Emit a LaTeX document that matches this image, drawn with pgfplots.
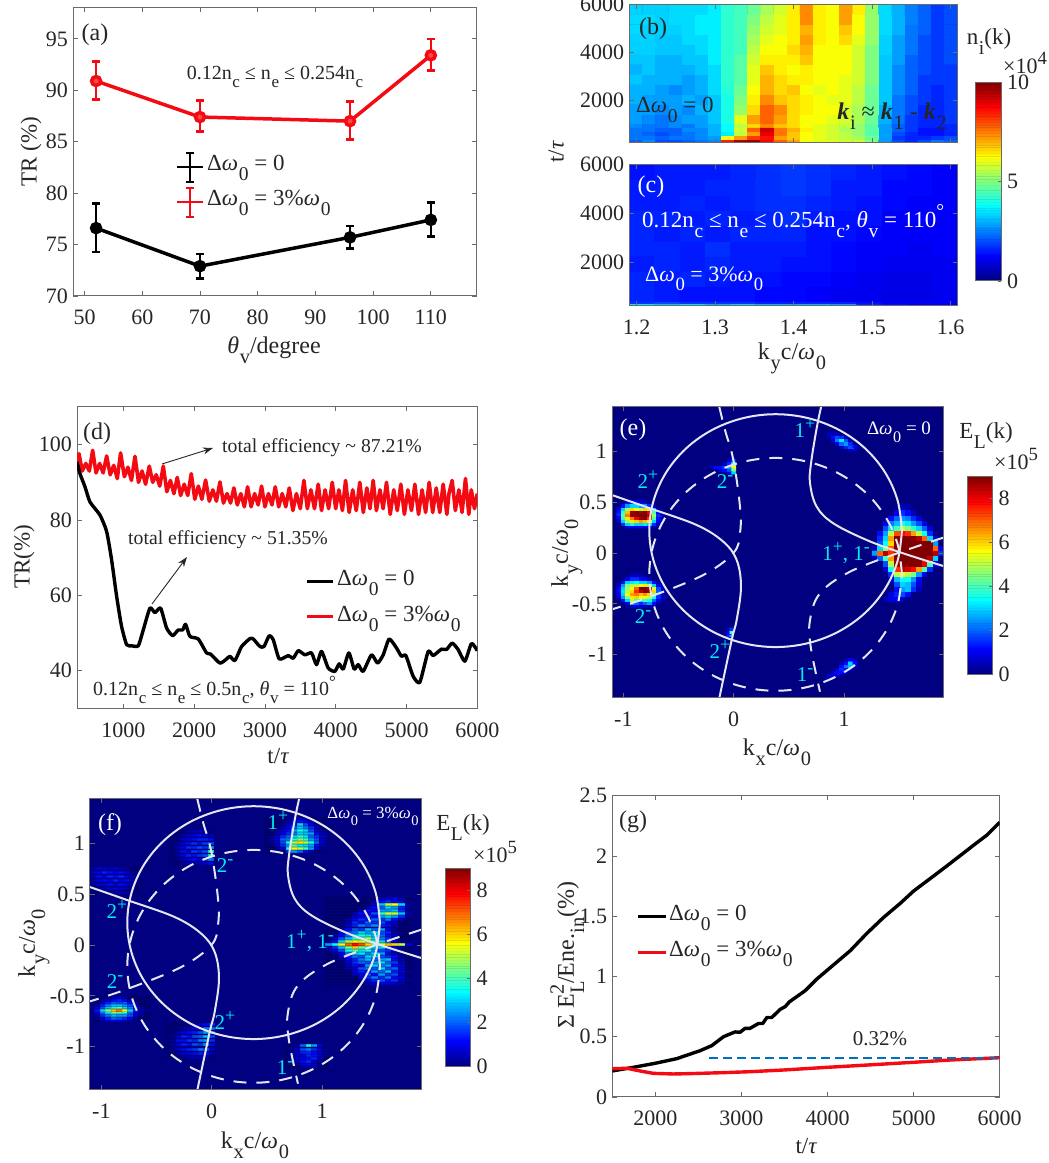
\documentclass[border=0pt]{standalone}
\usepackage{fontspec}
\setmainfont{Liberation Serif}
\usepackage{pgfplots}
\pgfplotsset{compat=1.18}
\usetikzlibrary{arrows.meta}
\definecolor{txt}{HTML}{262626}
\definecolor{frm}{HTML}{6A6A6A}
\definecolor{wl}{HTML}{E4E6F2}
\definecolor{cy}{HTML}{00EEF0}
\definecolor{rd}{HTML}{F40A12}
\definecolor{jb}{rgb}{0,0,.5}
\definecolor{mb}{rgb}{0,.447,.741}
\newcommand\fs[1]{\fontsize{#1}{#1}\selectfont}
\newcommand\SB[1]{\kern.03em\raisebox{-.42em}{\scalebox{.85}{#1}}}
\newcommand\SP[1]{\raisebox{.42em}{\scalebox{.85}{#1}}}
\newcommand\Om{{\itshape ω}}
\newcommand\Dw{Δ\Om\SB{0}}
\newcommand\Th{{\itshape θ}}
\newcommand\Tau{{\itshape τ}}
\newcommand\bk{{\bfseries\itshape k}}
\newcommand\TC[4]{\node[anchor=base,inner sep=0,font=\fs{#3},text=txt] at (#1,{#2+.33*#3}) {#4};}
\newcommand\TL[4]{\node[anchor=base west,inner sep=0,font=\fs{#3},text=txt] at (#1,{#2+.33*#3}) {#4};}
\newcommand\TR[4]{\node[anchor=base,rotate=90,inner sep=0,font=\fs{#3},text=txt] at ({#1+.33*#3},#2) {#4};}
\newcommand\blob[6]{%
 \gdef\coords{}%
 \foreach \v [count=\i from 0] in {#6} {%
   \pgfmathsetmacro\cx{#2+#3*mod(\i,#1)}%
   \pgfmathsetmacro\cy{#4+#5*floor(\i/#1)}%
   \xdef\coords{\coords (\cx,\cy) [\v]}%
 }%
 \edef\tmp{\noexpand\addplot[matrix plot*,mesh/cols=#1,point meta=explicit] coordinates {\coords};}\tmp
}
\newcommand\sblob[6]{%
 \gdef\coords{}%
 \foreach \v [count=\i from 0] in {#6} {%
   \pgfmathsetmacro\cx{#2+#3*mod(\i,#1)}%
   \pgfmathsetmacro\cy{#4+#5*floor(\i/#1)}%
   \xdef\coords{\coords (\cx,\cy) [\v]}%
 }%
 \pgfmathsetmacro\xs{#3*55.2}%
 \edef\tmp{\noexpand\addplot[scatter,only marks,scatter src=explicit,mark=square*,mark size=1pt,mark options={xscale=\xs}] coordinates {\coords};}\tmp
}
\pgfplotsset{
 /pgf/number format/assume math mode=true,
 /pgf/number format/1000 sep={},
 base/.style n args={4}{at={(#1pt,#2pt)},anchor=south west,scale only axis,width=#3pt,height=#4pt,
   axis line style={draw=frm,line width=1pt},tick style={draw=frm,line width=.8pt},
   major tick length=4.5pt,tick align=inside,
   tick label style={font=\fs{22},text=txt,inner sep=3pt},
   xticklabel style={yshift=-11pt},yticklabel style={xshift=-2pt},
   clip=true},
 hm/.style={axis on top,colormap/jet,point meta min=0,axis background/.style={fill=jb}},
}
% a colour scale as an axis of its own: left, bottom, height, top value, ticks
\newcommand\cbaxis[5]{%
\begin{axis}[base={#1}{#2}{25.3}{#3},hm,point meta max=1,xmin=0,xmax=1,ymin=0,ymax=#4,xtick=\empty,ytick pos=right,ytick={#5},
  major tick length=3pt,yticklabel style={xshift=5pt}]
 \gdef\coords{}%
 \foreach \k in {0,...,128} {%
   \pgfmathsetmacro\yy{(\k+.5)/129*#4}%
   \pgfmathsetmacro\mm{(\k+.5)/129}%
   \xdef\coords{\coords (.25,\yy) [\mm] (.75,\yy) [\mm]}%
 }%
 \edef\tmp{\noexpand\addplot[matrix plot*,mesh/cols=2,point meta=explicit] coordinates {\coords};}\tmp
\end{axis}}
\newcommand\curves{%
\addplot[wl,line width=2pt,smooth,tension=.6] coordinates {(1.525,.22)(1.486,.516)(1.372,.7925)(1.190,1.030)(.9525,1.212)(.676,1.326)(.38,1.365)(.084,1.326)(-.1925,1.212)(-.430,1.030)(-.612,.7925)(-.726,.516)(-.765,.22)(-.726,-.076)(-.612,-.3525)(-.430,-.590)(-.1925,-.772)(.084,-.886)(.38,-.925)(.676,-.886)(.9525,-.772)(1.190,-.590)(1.372,-.3525)(1.486,-.076)(1.525,.22)};
\addplot[wl,line width=2pt,smooth,tension=.6,dash pattern=on 13pt off 10pt] coordinates {(1.525,-.21)(1.486,.086)(1.372,.3625)(1.190,.600)(.9525,.782)(.676,.896)(.38,.935)(.084,.896)(-.1925,.782)(-.430,.600)(-.612,.3625)(-.726,.086)(-.765,-.21)(-.726,-.506)(-.612,-.7825)(-.430,-1.020)(-.1925,-1.202)(.084,-1.316)(.38,-1.355)(.676,-1.316)(.9525,-1.202)(1.190,-1.020)(1.372,-.7825)(1.486,-.506)(1.525,-.21)};
\addplot[wl,line width=2pt,smooth,tension=.6] coordinates {(.792,1.436)(.752,1.226)(.701,.882)(.692,.685)(.752,.456)(.903,.292)(1.205,.128)(1.508,.007)(1.900,-.128)};
\addplot[wl,line width=2pt,smooth,tension=.6] coordinates {(-1.103,.570)(-.758,.439)(-.335,.275)(-.094,.111)(.027,-.069)(.066,-.331)(.027,-.659)(-.018,-.856)(-.130,-1.426)};
\addplot[wl,line width=2pt,smooth,tension=.6,dash pattern=on 13pt off 10pt] coordinates {(-.130,1.436)(-.079,1.21)(-.003,.915)(.057,.456)(.057,.193)(-.003,0)(-.275,-.216)(-.758,-.430)(-1.103,-.554)};
\addplot[wl,line width=2pt,smooth,tension=.6,dash pattern=on 13pt off 10pt] coordinates {(1.9,.151)(1.508,.007)(1.054,-.184)(.782,-.397)(.692,-.659)(.698,-.921)(.782,-1.364)};
}
\begin{document}
\begin{tikzpicture}[x=1pt,y=1pt]
\path[use as bounding box] (0,0) rectangle (1049,1163);
% (a)
\begin{axis}[base={73}{867}{404}{288},xmin=48,xmax=118,ymin=70,ymax=98,xtick={50,60,...,110},ytick={70,75,...,95}]
\addplot[black,line width=3.5pt,mark=*,mark size=4.5pt,error bars/.cd,y dir=both,y explicit,error bar style={line width=2.5pt},error mark options={rotate=90,mark size=4pt,line width=2.5pt}] coordinates {(52,76.6) += (0,2.4) -= (0,2.3) (70,72.9) += (0,1.2) -= (0,1.2) (96,75.7) += (0,1.1) -= (0,1.1) (110,77.4) += (0,1.7) -= (0,1.6)};
\addplot[rd,line width=3.5pt,mark=*,mark size=4.5pt,mark options={fill=rd!75},error bars/.cd,y dir=both,y explicit,error bar style={line width=2.5pt},error mark options={rotate=90,mark size=4pt,line width=2.5pt}] coordinates {(52,90.9) += (0,1.9) -= (0,1.8) (70,87.4) += (0,1.6) -= (0,1.4) (96,87.0) += (0,1.9) -= (0,1.8) (110,93.4) += (0,1.6) -= (0,1.5)};
\end{axis}
% (b)
\begin{axis}[base={629.3}{1020}{328.4}{138.3},hm,point meta max=100,xmin=1.1906,xmax=1.609,ymin=222,ymax=6000,xtick={1.2,1.3,...,1.6},xticklabels={},ytick={2000,4000,6000}]
\blob{25}{1.199}{0.01673}{302}{160}{
22,26,20,20,22,24,26,85,96,98,88,78,72,62,60,60,58,58,50,28,20,16,20,24,22,
24,24,22,24,24,26,28,62,72,82,86,72,68,62,60,58,56,54,48,28,18,16,16,18,20,
24,22,20,22,24,26,30,36,56,72,90,76,68,62,60,58,56,52,46,28,20,16,14,14,16,
24,24,22,22,26,26,30,38,58,78,92,76,70,64,60,58,54,52,46,28,22,18,14,14,16,
26,24,24,26,24,28,30,38,56,66,74,68,66,62,60,58,56,52,46,28,22,18,16,16,16}
\blob{25}{1.199}{0.01673}{1229.5}{415}{
28,26,24,26,28,28,32,40,60,72,78,72,66,62,62,60,58,54,48,30,24,18,16,16,18,
28,28,26,28,26,30,32,40,52,66,78,74,66,64,62,62,58,54,48,30,24,20,16,16,18,
30,28,28,28,30,28,32,40,50,64,74,68,66,64,62,60,60,56,48,32,24,20,18,16,18,
30,30,28,26,28,30,34,41,48,62,70,66,68,62,60,62,60,56,48,32,26,22,18,16,18,
32,30,30,30,28,30,34,42,46,60,70,66,64,64,62,62,60,58,50,32,26,22,18,18,18,
30,32,30,30,30,32,34,42,46,60,68,64,62,64,62,62,62,58,50,32,26,22,20,18,18,
32,32,30,30,32,32,36,42,46,58,64,64,64,68,62,62,62,58,50,32,28,22,20,18,20,
33,33,32,32,32,34,36,42,44,56,62,62,66,70,62,62,62,58,50,33,28,24,20,18,20,
33,33,32,32,34,34,36,42,44,54,60,62,64,72,64,62,66,60,52,33,28,24,20,18,20,
34,33,33,33,34,36,36,42,44,52,58,60,64,70,64,62,68,62,52,34,30,24,22,18,20,
34,34,33,34,34,36,36,42,44,50,56,60,64,74,64,62,72,62,52,34,30,25,22,18,20,
33,33,33,34,34,34,36,42,44,48,54,58,64,74,64,62,72,64,52,34,30,25,22,18,20}
\end{axis}
% (c)
\begin{axis}[base={629.3}{857.3}{328.4}{141},hm,point meta max=100,xmin=1.1906,xmax=1.609,ymin=222,ymax=6000,xtick={1.2,1.3,...,1.6},ytick={2000,4000,6000},
 xticklabel style={/pgf/number format/fixed,/pgf/number format/precision=1}]
\blob{13}{1.2067}{0.03217}{261}{78}{
35,32,34,30,33,30,30,30,28,16,14,12,12,
18,20,18,18,18,16,16,16,16,14,12,12,12}
\blob{13}{1.2067}{0.03217}{690}{624.7}{
16,15,14,14,14,13,13,12,11,11,10,10,11,
16,15,16,15,14,14,13,13,12,11,10,10,11,
15,16,15,16,15,15,14,14,13,12,11,11,11,
16,16,15,17,15,15,15,14,13,12,12,11,12,
16,15,16,15,16,16,16,14,14,13,12,12,12,
16,16,15,16,15,16,17,15,14,14,12,12,12,
15,15,16,15,16,17,17,16,15,14,13,12,12,
15,15,15,16,16,17,18,17,15,15,13,13,12,
14,15,15,15,16,17,18,17,16,15,14,13,12}
\end{axis}
\cbaxis{975.7}{882}{198.3}{10}{0,5,10}
% (d)
\begin{axis}[base={77}{454.7}{400.3}{301.3},xmin=346,xmax=6000,ymin=30,ymax=110,xtick={1000,2000,...,6000},ytick={40,60,80,100}]
\addplot[rd,line width=3.6pt,line join=round] coordinates {(346,94)(374,97.6)(420,93)(470,95)(520,93)(567,98.5)(615,92.5)(665,95)(715,92.5)(765,97)(815,92)(865,94.5)(915,91)(962,97.8)(1015,91.5)(1065,94)(1115,90.5)(1165,96.9)(1215,90)(1265,93)(1315,89.5)(1367,94.3)(1415,90)(1465,92)(1515,89)(1565,94.3)(1615,87.5)(1665,90.5)(1715,87)(1762,91.3)(1810,86.5)(1860,89.5)(1910,86.5)(1960,92.3)(2010,85.5)(2060,89)(2110,85.5)(2162,90.6)(2215,85)(2265,88)(2315,85)(2365,90.1)(2415,84.5)(2465,87)(2515,84.5)(2562,88.5)(2610,84)(2660,87)(2710,83.5)(2755,88.8)(2805,83.5)(2855,87)(2905,84)(2953,89)(3000,83.5)(3050,87)(3100,84)(3146,88.8)(3195,83.5)(3245,87)(3295,83.5)(3344,88.5)(3395,82.5)(3445,87)(3500,83)(3551,90.5)(3600,83)(3650,88)(3700,83)(3753,89.5)(3800,82.5)(3850,88)(3900,83)(3951,90)(4000,83)(4045,88)(4095,82.5)(4139,90.5)(4190,82)(4240,88)(4290,82.5)(4341,90)(4390,82)(4440,88.5)(4485,83)(4529,90.5)(4575,82.5)(4625,88)(4670,83)(4717,90)(4770,81.5)(4820,88)(4870,82.5)(4920,89.5)(4970,81.5)(5020,88)(5070,82.5)(5118,89.5)(5170,81.5)(5220,88)(5270,82)(5320,90)(5370,82)(5420,88.5)(5470,82)(5518,89.5)(5570,81.5)(5600,87)(5645,90.5)(5690,82.5)(5740,88)(5785,82)(5833,91)(5880,81.5)(5915,88)(5960,83)(6000,87)};
\addplot[black,line width=3.4pt,line join=round,smooth,tension=.35] coordinates {(346,95.4)(388,92.3)(459,88.8)(529,84.8)(671,81.3)(765,76.9)(835,69.4)(906,59.7)(976,51.7)(1047,46.9)(1118,46.6)(1212,46.6)(1282,50.8)(1376,56.6)(1447,55.4)(1527,56.6)(1612,51.3)(1697,49.3)(1776,50.8)(1838,50.8)(1880,52.3)(1941,49.1)(2059,48.4)(2176,44.7)(2233,44.4)(2365,42.0)(2459,43.1)(2506,43.8)(2577,42.7)(2671,46.4)(2789,48.5)(2836,48.4)(2930,46.4)(2987,46.4)(3062,49.3)(3118,48.2)(3203,43.1)(3330,44.0)(3400,43.3)(3471,45.3)(3565,44.2)(3659,44.7)(3729,41.6)(3800,45.1)(3894,40.7)(3988,39.8)(4049,41.8)(4106,40.4)(4186,44.7)(4261,40.4)(4318,41.6)(4388,39.8)(4506,44.2)(4591,42.0)(4671,44.2)(4755,48.4)(4859,46.0)(4929,43.8)(4991,44.0)(5094,38.5)(5188,36.9)(5306,45.1)(5376,44.0)(5494,45.7)(5565,45.6)(5645,47.3)(5729,45.6)(5824,42.5)(5918,47.2)(6000,45.3)};
\end{axis}
% (e)
\begin{axis}[base={612}{465}{331.3}{291},hm,point meta max=90,xmin=-1.103,xmax=1.9,ymin=-1.426,ymax=1.436,xtick={-1,0,1},ytick={-1,-.5,0,.5,1}]
\blob{13}{1.28}{.05}{-.50}{.05}{
0,0,0,0,0,0,0,0,0,0,0,0,0,
0,0,5,8,10,6,0,0,0,0,0,0,0,
0,0,0,8,14,18,12,0,0,0,0,0,0,
0,0,0,0,12,25,28,15,5,0,0,0,0,
0,0,0,0,18,30,28,18,8,0,0,0,0,
0,0,0,8,28,35,35,25,10,0,0,0,0,
0,0,0,15,50,55,50,45,25,10,0,0,0,
0,0,8,35,75,85,82,78,65,40,15,0,0,
0,0,18,50,88,95,95,95,95,80,40,10,0,
5,20,40,65,90,95,95,95,95,95,85,30,0,
25,70,85,75,95,95,95,95,95,95,95,85,15,
5,30,45,70,92,95,95,95,95,95,95,70,10,
0,18,35,60,92,95,95,95,95,95,90,25,0,
0,15,30,65,90,95,90,95,85,70,30,8,0,
0,12,25,50,72,78,75,65,50,35,15,0,0,
0,0,18,30,40,50,45,38,30,20,8,0,0,
0,0,10,22,28,35,32,25,18,10,0,0,0,
0,0,0,12,20,25,22,15,8,0,0,0,0,
0,0,0,0,10,15,12,5,0,0,0,0,0,
0,0,0,0,0,6,4,0,0,0,0,0,0}
\blob{11}{-1.04}{.04}{.26}{.03}{
0,0,8,12,10,12,10,8,5,0,0,
0,15,30,35,30,30,32,28,15,5,0,
8,30,48,58,60,65,62,55,30,10,3,
12,38,58,68,80,88,90,75,40,12,3,
15,42,68,88,92,95,95,85,48,15,3,
12,38,62,88,90,88,92,80,40,10,0,
8,30,48,60,55,50,60,50,25,5,0,
0,12,25,30,30,25,25,15,5,0,0,
0,0,8,12,10,8,5,0,0,0,0}
\blob{12}{-1.04}{.04}{-.52}{.03}{
0,0,0,6,8,8,5,3,3,0,0,0,
0,0,10,25,20,15,20,25,12,4,0,0,
0,12,30,50,40,30,40,35,20,10,3,0,
8,25,45,58,60,55,55,50,35,15,5,0,
10,30,55,65,68,62,66,60,45,15,5,3,
12,32,50,60,75,85,90,88,60,20,6,3,
10,30,48,55,70,90,92,85,55,18,5,0,
6,25,45,50,50,55,58,48,30,10,3,0,
0,12,30,32,35,30,30,25,12,3,0,0,
0,0,10,15,15,12,10,5,0,0,0,0,
0,0,0,5,6,4,0,0,0,0,0,0}
\blob{6}{-.2}{.04}{.79}{.03}{
0,0,0,0,10,30,
0,0,8,12,18,45,
6,12,12,15,25,55,
0,0,0,6,15,35,
0,0,0,0,6,15}
\blob{7}{.86}{.04}{1.02}{.03}{
0,0,0,0,0,6,8,
0,0,0,5,14,18,10,
0,0,8,20,25,15,0,
0,8,22,32,18,5,0,
3,12,18,15,5,0,0,
5,6,5,0,0,0,0}
\blob{7}{.86}{.04}{-1.23}{.03}{
6,5,0,0,0,0,0,
5,10,8,3,0,0,0,
0,5,12,12,6,0,0,
0,0,8,15,12,8,0,
0,0,0,12,22,28,8,
0,0,0,5,12,30,12,
0,0,0,0,5,10,6}
\blob{3}{-.08}{.03}{-.81}{.03}{0,15,25,0,10,40,0,6,15}
\curves
\end{axis}
\cbaxis{967}{488.7}{197.6}{9}{0,2,4,6,8}
% (f)
\begin{axis}[base={90}{73}{331.3}{291},hm,clip mode=individual,point meta max=90,xmin=-1.103,xmax=1.9,ymin=-1.426,ymax=1.436,xtick={-1,0,1},ytick={-1,-.5,0,.5,1}]
\sblob{13}{1.06}{.06}{-.38}{.03}{
0,0,0,0,0,0,5,8,10,10,8,5,0,
0,0,0,0,0,0,10,14,18,12,15,6,3,
0,0,0,0,0,8,15,22,15,22,12,10,0,
0,0,0,0,6,10,18,12,25,15,18,6,0,
0,0,0,0,8,14,12,25,20,28,14,10,3,
0,0,0,5,8,18,22,18,30,18,20,8,0,
0,0,0,6,12,10,25,30,22,25,12,8,0,
0,0,0,8,15,20,18,25,30,20,16,6,0,
0,0,4,10,14,22,28,20,25,28,10,5,0,
0,0,6,14,22,18,30,28,18,15,12,3,0,
0,4,10,22,28,32,22,30,25,12,6,0,0,
3,8,18,35,40,32,35,25,18,15,5,3,0,
5,15,28,45,60,45,40,28,30,18,8,3,0,
25,35,55,70,78,72,60,45,55,62,60,50,10,
4,12,30,48,55,52,45,38,30,20,8,3,0,
0,8,18,28,38,42,50,30,22,15,5,0,0,
0,4,12,20,30,35,32,28,20,12,6,0,0,
0,0,8,18,22,30,25,30,18,14,5,0,0,
0,0,5,12,20,16,28,20,25,10,3,0,0,
0,0,0,8,14,22,18,24,14,12,5,0,0,
0,0,0,6,15,12,20,15,18,10,6,0,0,
0,0,0,4,10,15,12,20,16,22,12,6,0,
0,0,0,0,8,10,15,12,25,30,25,15,4,
0,0,0,0,5,12,10,18,38,52,50,28,5,
0,0,0,0,0,6,12,10,25,25,28,15,3,
0,0,0,0,0,0,5,12,20,30,25,14,4,
0,0,0,0,0,0,0,8,28,50,55,30,5,
0,0,0,0,0,0,0,4,12,15,12,8,0,
0,0,0,0,0,0,0,0,6,8,10,5,0}
\sblob{11}{.50}{.05}{.92}{.03}{
0,0,0,0,15,25,20,12,5,0,0,
0,0,3,8,35,55,50,40,25,8,3,
0,0,6,15,25,40,32,30,25,12,5,
0,3,8,18,35,50,58,50,35,20,8,
0,4,10,20,22,35,45,38,25,18,6,
0,3,8,15,20,30,38,32,20,15,8,
0,0,5,10,15,22,30,28,25,12,5,
0,0,4,8,12,25,35,30,18,8,3,
0,0,0,5,10,18,28,22,15,6,0,
0,0,0,3,8,12,30,18,10,3,0,
0,0,0,0,5,8,12,10,5,0,0,
0,0,0,0,3,5,6,5,0,0,0}
\sblob{8}{-.36}{.05}{.80}{.04}{
0,0,3,6,5,6,8,12,
0,0,6,10,12,10,15,22,
0,4,10,14,12,15,18,35,
0,5,12,10,16,14,18,38,
0,6,10,15,14,18,15,25,
0,3,8,12,15,12,16,18,
0,0,8,10,12,14,14,12,
0,0,4,8,10,12,10,6,
0,0,0,5,6,8,5,0}
\sblob{9}{-1.07}{.05}{.52}{.04}{
0,0,0,3,5,5,4,0,0,
0,3,5,8,10,8,6,3,0,
3,8,10,12,8,12,10,5,0,
5,10,12,10,14,10,12,6,0,
6,12,10,14,12,14,10,6,3,
8,10,14,12,10,12,8,3,0,
5,8,8,6,8,5,3,0,0}
\sblob{10}{-1.04}{.05}{-.74}{.025}{
0,4,8,8,10,6,4,0,0,0,
0,8,14,20,18,15,10,3,0,0,
5,15,22,28,25,25,18,8,3,0,
8,22,32,45,40,38,20,8,4,0,
12,30,45,62,68,55,30,14,5,3,
6,18,28,35,40,30,22,8,3,0,
4,14,22,28,28,24,18,6,0,0,
0,8,14,20,18,20,12,4,0,0,
0,3,8,12,14,12,6,0,0,0,
0,0,3,6,8,5,0,0,0,0}
\sblob{9}{-.40}{.05}{-1.10}{.04}{
0,0,0,3,5,6,5,3,0,
0,0,4,8,10,12,14,12,5,
0,3,8,12,14,16,22,18,8,
0,4,10,14,12,18,16,24,12,
0,3,12,12,16,14,22,25,15,
0,3,8,14,12,18,20,28,18,
0,0,5,10,12,14,18,25,20,
0,0,0,4,8,10,14,22,22,
0,0,0,0,0,4,8,12,15}
\sblob{8}{.68}{.05}{-1.20}{.03}{
0,0,0,3,5,4,0,0,
0,0,4,8,10,6,3,0,
0,3,6,12,15,8,4,0,
0,4,8,10,12,14,6,0,
0,3,5,8,14,12,8,3,
0,4,8,14,15,12,6,3,
0,3,8,18,22,15,8,3,
0,0,6,20,35,25,10,3}
\curves
\end{axis}
\cbaxis{445}{96.7}{197.6}{9}{0,2,4,6,8}
% (g)
\begin{axis}[base={612.3}{66}{387.4}{301.3},xmin=1500,xmax=6000,ymin=0,ymax=2.5,xtick={2000,3000,...,6000},ytick={0,.5,1,1.5,2,2.5}]
\addplot[black,line width=3.4pt,line join=round] coordinates {(1500,.216)(1744,.246)(2000,.28)(2248,.318)(2519,.384)(2655,.426)(2791,.50)(2926,.54)(2984,.537)(3043,.57)(3100,.57)(3198,.61)(3248,.61)(3295,.66)(3353,.66)(3450,.727)(3508,.75)(3558,.79)(3740,.882)(3876,.979)(4000,1.054)(4264,1.214)(4457,1.358)(4651,1.49)(4845,1.607)(5000,1.709)(5233,1.834)(5426,1.939)(5698,2.09)(5853,2.174)(6000,2.279)};
\addplot[rd,line width=3.4pt,line join=round] coordinates {(1500,.235)(1674,.238)(1822,.216)(1977,.196)(2209,.191)(2403,.194)(2791,.202)(3100,.21)(3488,.224)(3992,.246)(4457,.265)(5000,.288)(5426,.307)(6000,.326)};
\addplot[mb,line width=2pt,dash pattern=on 9pt off 5pt] coordinates {(2620,.32)(6000,.32)};
\end{axis}
% texts, in picture pixels from the top
\begin{scope}[shift={(0,1163)},x=1pt,y=-1pt]
% a
\TC{95}{33}{24}{(a)}
\TC{275}{73}{20}{0.12n\SB{c} ≤ n\SB{e} ≤ 0.254n\SB{c}}
\TR{29}{152}{23}{TR (\%)}
\TC{274}{346}{24}{\Th\SB{v}/degree}
\draw[black,line width=2.5pt] (177,167)--(203,167);
\draw[black,line width=2.2pt] (190,153)--(190,182) (186,153)--(194,153) (186,182)--(194,182);
\TL{207}{163}{23}{\Dw{} = 0}
\draw[rd,line width=2.5pt] (177,202)--(203,202);
\draw[rd,line width=2.2pt] (190,188)--(190,217) (186,188)--(194,188) (186,217)--(194,217);
\TL{207}{198}{23}{\Dw{} = 3\%\Om\SB{0}}
% b, c
\TC{653}{27}{24}{(b)}
\TL{636}{105}{23}{\Dw{} = 0}
\TC{892}{112}{24}{\bk\SB{i} ≈ \bk\SB{1} - \bk\SB{2}}
\TC{651}{185}{24}{\color{white}(c)}
\TL{642}{220}{23}{\color{white}0.12n\SB{c} ≤ n\SB{e} ≤ 0.254n\SB{c}, \Th\SB{v} = 110\SP{°}}
\TL{645}{274}{22}{\color{white}\Dw{} = 3\%\Om\SB{0}}
\TR{556}{152}{23}{t/\Tau}
\TC{792}{352}{24}{k\SB{y}c/\Om\SB{0}}
\TC{989}{37}{23}{n\SB{i}(k)}
\TL{1003}{66}{22}{×10\SP{4}}
% d
\TC{97}{432}{24}{(d)}
\TC{322}{446}{19.7}{total efficiency \textasciitilde{} 87.21\%}
\TC{228}{538}{19.7}{total efficiency \textasciitilde{} 51.35\%}
\draw[-{Stealth[length=10pt,width=7pt]},line width=.9pt,txt] (162,464)--(213,448);
\draw[-{Stealth[length=10pt,width=7pt]},line width=.9pt,txt] (152,604)--(187,557);
\draw[black,line width=3pt] (307,582)--(333,582);
\TL{337}{578}{23}{\Dw{} = 0}
\draw[rd,line width=3pt] (307,617)--(333,617);
\TL{337}{614}{23}{\Dw{} = 3\%\Om\SB{0}}
\TL{93}{689}{20}{0.12n\SB{c} ≤ n\SB{e} ≤ 0.5n\SB{c}, \Th\SB{v} = 110\SP{°}}
\TR{22}{557}{23}{TR(\%)}
\TC{278}{756}{23}{t/\Tau}
% e
\TC{633}{428}{24}{\color{white}(e)}
\TC{899}{428}{19}{\color{white}\Dw{} = 0}
\TC{986}{431}{23}{E\SB{L}(k)}
\TL{994}{462}{22}{×10\SP{5}}
\TR{560}{553}{24}{k\SB{y}c/\Om\SB{0}}
\TC{777}{748}{24}{k\SB{x}c/\Om\SB{0}}
\TC{805}{431}{21}{\color{cy}1\SP{+}}
\TC{725}{482}{21}{\color{cy}2\SP{-}}
\TC{648}{482}{21}{\color{cy}2\SP{+}}
\TC{643}{617}{21}{\color{cy}2\SP{-}}
\TC{720}{652}{21}{\color{cy}2\SP{+}}
\TC{805}{675}{21}{\color{cy}1\SP{-}}
\TC{846}{554}{21}{\color{cy}1\SP{+}, 1\SP{-}}
% f
\TC{110}{823}{24}{\color{white}(f)}
\TC{373}{813}{17}{\color{white}\Dw{} = 3\%\Om\SB{0}}
\TC{463}{823}{23}{E\SB{L}(k)}
\TL{473}{855}{22}{×10\SP{5}}
\TR{27}{943}{24}{k\SB{y}c/\Om\SB{0}}
\TC{255}{1141}{24}{k\SB{x}c/\Om\SB{0}}
\TC{278}{823}{21}{\color{cy}1\SP{+}}
\TC{225}{866}{21}{\color{cy}2\SP{-}}
\TC{117}{912}{21}{\color{cy}2\SP{+}}
\TC{310}{942}{21}{\color{cy}1\SP{+}, 1\SP{-}}
\TC{115}{982}{21}{\color{cy}2\SP{-}}
\TC{225}{1023}{21}{\color{cy}2\SP{+}}
\TC{285}{1068}{21}{\color{cy}1\SP{-}}
% g
\TC{633}{820}{24}{(g)}
\TR{566}{955}{24}{Σ E\rlap{\SB{L}}\SP{2}/Ene.\SB{in}(\%)}
\draw[black,line width=3pt] (638,917)--(666,917);
\TL{669}{913}{23}{\Dw{} = 0}
\draw[rd,line width=3pt] (638,953)--(666,953);
\TL{669}{949}{23}{\Dw{} = 3\%\Om\SB{0}}
\TC{880}{1039}{21}{0.32\%}
\TC{806}{1146}{23}{t/\Tau}
\end{scope}
\end{tikzpicture}
\end{document}
